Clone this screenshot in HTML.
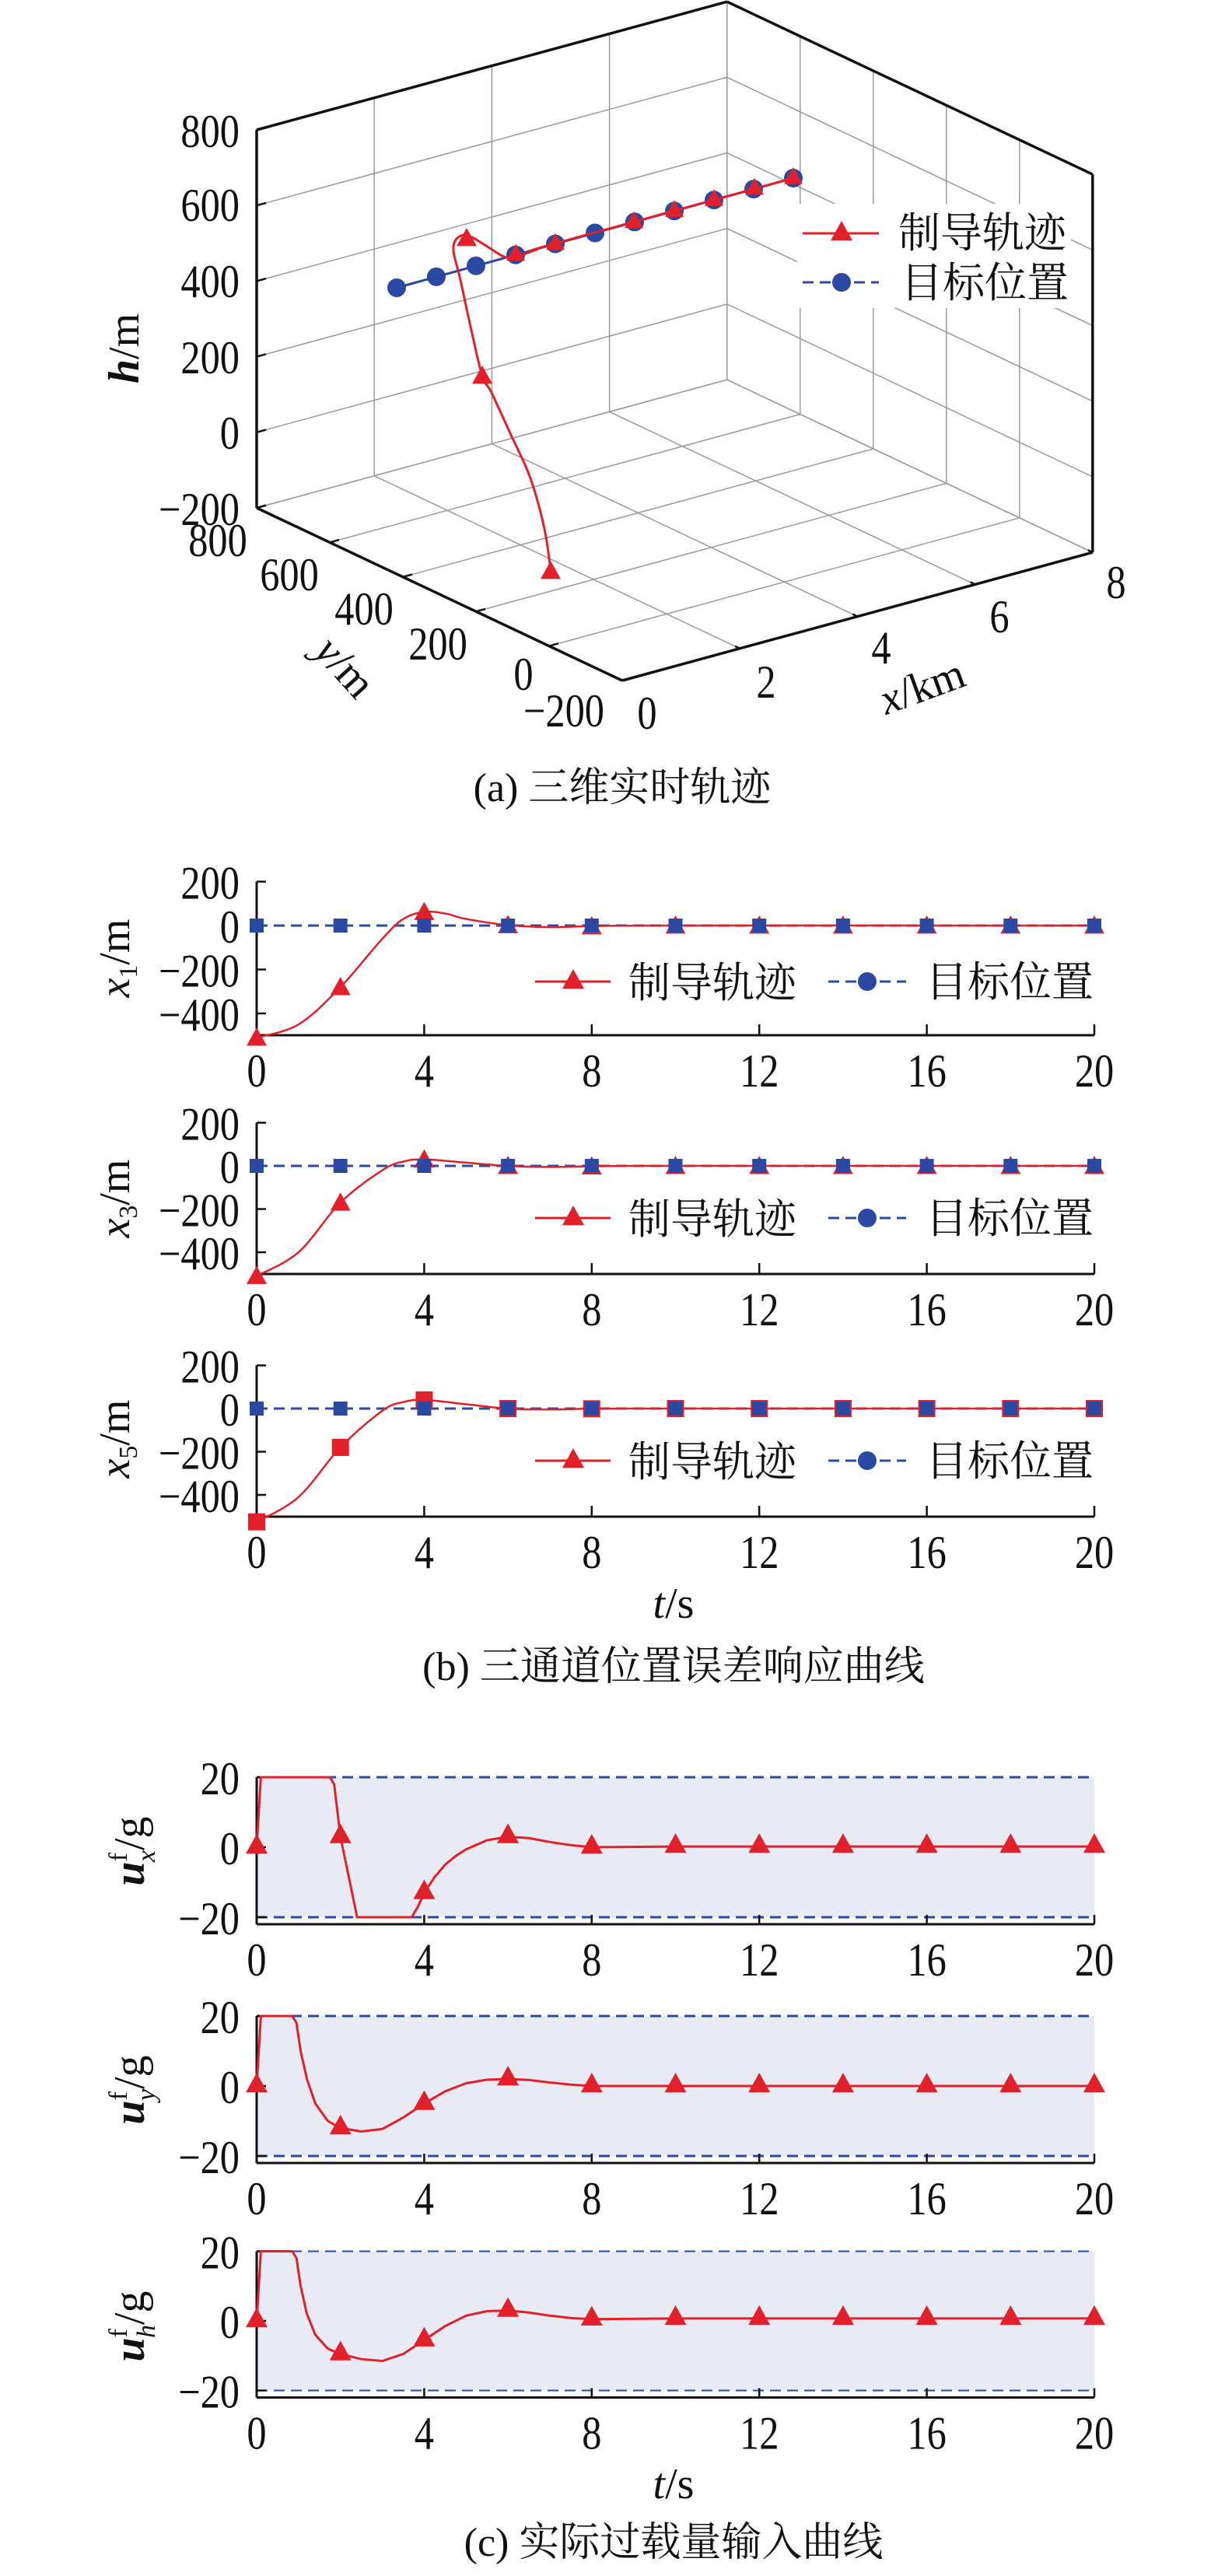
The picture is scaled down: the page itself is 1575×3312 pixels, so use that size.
<!DOCTYPE html>
<html><head><meta charset="utf-8">
<style>
html,body{margin:0;padding:0;background:#fff;}
svg{display:block;}
text{font-family:"Liberation Serif","Noto Serif CJK SC",serif;fill:#111;}
</style></head>
<body>
<svg id="s" width="1575" height="3312" viewBox="0 0 1575 3312" xmlns="http://www.w3.org/2000/svg"></svg>
<script>
const S=document.getElementById('s');
let out='';
const RED='#e3202a',BLUE='#2b49a3';
function line(x1,y1,x2,y2,c,w,d){out+=`<line x1="${x1}" y1="${y1}" x2="${x2}" y2="${y2}" stroke="${c}" stroke-width="${w}" ${d?`stroke-dasharray="${d}"`:''}/>`;}
function txt(x,y,s,size,anchor,extra){out+=`<text x="${x}" y="${y}" font-size="${size}" text-anchor="${anchor||'middle'}" ${extra||''}>${s}</text>`;}
function num(x,y,s,anchor){out+=`<text x="0" y="0" font-size="60" text-anchor="${anchor||'middle'}" transform="translate(${x},${y+2}) scale(0.84,1)">${s}</text>`;}
function tri(x,y,r){r=r||13;out+=`<polygon points="${x},${y-r} ${x-r},${y+r*0.8} ${x+r},${y+r*0.8}" fill="${RED}"/>`;}
function circ(x,y,r){out+=`<circle cx="${x}" cy="${y}" r="${r||12}" fill="${BLUE}"/>`;}
function sq(x,y,c,r){r=r||10;out+=`<rect x="${x-r}" y="${y-r}" width="${2*r}" height="${2*r}" fill="${c}"/>`;}
function poly(pts,c,w,d){out+=`<polyline fill="none" stroke="${c}" stroke-width="${w}" ${d?`stroke-dasharray="${d}"`:''} points="${pts.map(p=>p[0].toFixed(1)+','+p[1].toFixed(1)).join(' ')}"/>`;}
function cr(pts,n){
 let r=[];for(let i=0;i<pts.length-1;i++){const p0=pts[Math.max(0,i-1)],p1=pts[i],p2=pts[i+1],p3=pts[Math.min(pts.length-1,i+2)];
 for(let k=0;k<n;k++){const t=k/n,t2=t*t,t3=t2*t;
 const f=(a,b,c,d)=>0.5*((2*b)+(-a+c)*t+(2*a-5*b+4*c-d)*t2+(-a+3*b-3*c+d)*t3);
 r.push([f(p0[0],p1[0],p2[0],p3[0]),f(p0[1],p1[1],p2[1],p3[1])]);}}
 r.push(pts[pts.length-1]);return r;}
function interp(pts,t){for(let i=0;i<pts.length-1;i++){if(t>=pts[i][0]&&t<=pts[i+1][0]){const a=pts[i],b=pts[i+1];return a[1]+(b[1]-a[1])*(t-a[0])/(b[0]-a[0]);}}return pts[pts.length-1][1];}

// ===== 3D panel =====
function P(x,y,h){return [800+75.6*x-0.47*(y+200),875-20.6*x-0.222*(y+200)-0.486*(h+200)];}
function L3(a,b,c,w){line(a[0].toFixed(1),a[1].toFixed(1),b[0].toFixed(1),b[1].toFixed(1),c,w);}
const G='#9a9a9a';
for(let h=-200;h<=800;h+=200){L3(P(0,800,h),P(8,800,h),G,1.5);L3(P(8,-200,h),P(8,800,h),G,1.5);}
for(let x=0;x<=8;x+=2){L3(P(x,800,-200),P(x,800,800),G,1.5);L3(P(x,-200,-200),P(x,800,-200),G,1.5);}
for(let y=-200;y<=800;y+=200){L3(P(8,y,-200),P(8,y,800),G,1.5);L3(P(0,y,-200),P(8,y,-200),G,1.5);}
const K='#111';
L3(P(0,800,-200),P(0,800,800),K,3.5);L3(P(0,800,800),P(8,800,800),K,3.5);L3(P(8,800,800),P(8,-200,800),K,3.5);
L3(P(8,-200,800),P(8,-200,-200),K,3.5);L3(P(0,800,-200),P(0,-200,-200),K,3.5);L3(P(0,-200,-200),P(8,-200,-200),K,3.5);
for(let h=-200;h<=800;h+=200){const a=P(0,800,h);line(a[0],a[1].toFixed(1),a[0]+12,(a[1]-3.3).toFixed(1),K,2.5);}
for(let x=2;x<=8;x+=2){const a=P(x,-200,-200);line(a[0].toFixed(1),a[1].toFixed(1),(a[0]-6).toFixed(1),(a[1]-3).toFixed(1),K,2.5);}
for(let y=0;y<=800;y+=200){const a=P(0,y,-200);line(a[0].toFixed(1),a[1].toFixed(1),(a[0]+12).toFixed(1),(a[1]-3.3).toFixed(1),K,2.5);}
[[800,167],[600,262],[400,360],[200,458],[0,555],[-200,653]].forEach(v=>num(308,v[1]+20,v[0]<0?'−200':v[0],'end'));
txt(0,0,'<tspan font-weight="bold" font-style="italic">h</tspan>/m',56,'middle','transform="translate(178,448) rotate(-90)"');
[[800,280,693],[600,372,737],[400,468,781],[200,563,826],[0,673,865],['−200',725,912]].forEach(v=>num(v[1],v[2]+20,v[0]));
[[0,832,915],[2,985,875],[4,1133,831],[6,1285,791],[8,1435,747]].forEach(v=>num(v[1],v[2]+20,v[0]));
txt(0,0,'<tspan font-style="italic">y</tspan>/m',56,'middle','transform="translate(430,870) rotate(48)"');
txt(0,0,'<tspan font-style="italic">x</tspan>/km',56,'middle','transform="translate(1192,900) rotate(-20)"');
out+=`<rect x="1025" y="262" width="352" height="134" fill="#fff"/>`;
poly([[510,370],[1020,229]],BLUE,3);
for(let i=0;i<11;i++){const x=510+51*i;circ(x,370-(x-510)*0.2765,12);}
poly(cr([[708,734],[700,680],[682,615],[655,555],[632,505],[620,483],[605,420],[592,360],[583,322],[588,306],[602,303],[625,316],[648,330],[663,330],[690,321],[714,313],[1020,229]],8),RED,3);
tri(708,734);tri(620,483);tri(600,306);
[663,714,815,867,918,970,1020].forEach(x=>tri(x,370-(x-510)*0.2765-2,12));
line(1032,300,1130,300,RED,3);tri(1082,298,14);txt(1155,318,'制导轨迹',54,'start');
line(1032,363,1130,363,BLUE,3,'14 8');circ(1082,363,12);txt(1158,382,'目标位置',54,'start');
txt(800,1030,'(a) 三维实时轨迹',52);

// ===== b panels =====
const X=t=>330+t*53.85;
function bpanel(y0,sc,data,lab,sub,redsq){
 const Y=v=>y0-v*sc;
 const axb=y0+(sc===0.2825?141:139);
 line(330,Y(200),330,axb,K,3);line(330,axb,1407,axb,K,3);
 [200,0,-200,-400].forEach(v=>{line(330,Y(v),342,Y(v),K,2.5);num(308,Y(v)+20,v<0?'−'+(-v):v,'end');});
 for(let t=0;t<=20;t+=4){line(X(t),axb,X(t),axb-14,K,2.5);num(X(t),axb+64,t);}
 line(330,Y(0),1407,Y(0),BLUE,3,'14 8');
 const pts=cr(data.map(p=>[X(p[0]),Y(p[1])]),10);poly(pts,RED,2.5);
 for(let t=0;t<=20;t+=2){const v=interp(data,t);if(redsq)sq(X(t),Y(v),RED,11);else tri(X(t),Y(v),13);}
 for(let t=0;t<=20;t+=2)sq(X(t),Y(0),BLUE,9);
 const ly=Y(0)+ (sc===0.2825?72:67);
 line(688,ly,785,ly,RED,3);tri(737,ly-2,14);txt(808,ly+20,'制导轨迹',54,'start');
 line(1065,ly,1165,ly,BLUE,3,'14 8');circ(1115,ly,12);txt(1190,ly+19,'目标位置',54,'start');
 txt(0,0,`<tspan font-style="italic">x</tspan><tspan font-size="34" dy="10">${sub}</tspan><tspan dy="-10">/m</tspan>`,56,'middle',`transform="translate(166,${lab}) rotate(-90)"`);
}
bpanel(1190,0.2825,[[0,-510],[1,-450],[2,-280],[3,-60],[3.5,30],[4,62],[4.5,55],[5,30],[6,2],[7,-7],[8,-3],[10,0],[20,0]],1232,1,false);
bpanel(1499,0.2775,[[0,-510],[1,-400],[2,-170],[3,-20],[3.5,20],[4,30],[5,15],[6,0],[7,-5],[8,-2],[10,0],[20,0]],1541,3,false);
bpanel(1811,0.2775,[[0,-525],[1,-410],[2,-180],[3,-10],[3.5,30],[4,40],[5,20],[6,0],[7,-4],[8,-1],[10,0],[20,0]],1850,5,true);
txt(866,2080,'<tspan font-style="italic">t</tspan>/s',56);
txt(866,2160,'(b) 三通道位置误差响应曲线',52);

// ===== c panels =====
function cpanel(y0,sc,data,lab,sub,dw){
 const Y=v=>y0-v*sc, axb=Y(-20)+9;
 out+=`<rect x="330" y="${Y(20)}" width="1077" height="${Y(-20)-Y(20)}" fill="#e8eaf4"/>`;
 line(330,Y(20),1407,Y(20),BLUE,dw,'14 8');line(330,Y(-20),1407,Y(-20),BLUE,dw,'14 8');
 line(330,Y(20),330,axb,K,3);line(330,axb,1407,axb,K,3);
 [20,0,-20].forEach(v=>{line(330,Y(v),342,Y(v),K,2.5);num(308,Y(v)+20,v<0?'−20':v,'end');});
 for(let t=0;t<=20;t+=4){line(X(t),axb,X(t),axb-12,K,2.5);num(X(t),axb+64,t);}
 poly(data.map(p=>[X(p[0]),Y(p[1])]),RED,3);
 for(let t=0;t<=20;t+=2){tri(X(t),Y(interp(data,t))-3,14);}
 txt(0,0,`<tspan font-weight="bold" font-style="italic">u</tspan><tspan font-size="34" dy="-22">f</tspan><tspan font-size="34" font-style="italic" dy="36" dx="-12">${sub}</tspan><tspan dy="-14">/g</tspan>`,56,'middle',`transform="translate(185,${lab}) rotate(-90)"`);
}
cpanel(2375,4.5,[[0,0],[0.1,20],[1.75,20],[1.85,18],[2,3],[2.4,-20],[3.7,-20],[3.85,-17],[4,-13],[4.25,-8.5],[4.5,-5],[4.75,-2.5],[5,-0.6],[5.5,2],[6,3],[6.5,2.6],[7,1.5],[7.5,0.6],[8,0],[10,0.2],[20,0.2]],2380,'x',3);
cpanel(2682,4.5,[[0,0],[0.1,20],[0.85,20],[0.95,18],[1.05,10],[1.2,2],[1.4,-5],[1.7,-10],[2,-12],[2.5,-13],[3,-12.3],[3.5,-9],[4,-5],[4.5,-1.5],[5,0.8],[5.5,1.8],[6,2],[6.5,1.7],[7,1],[7.5,0.4],[8,0],[10,0],[20,0]],2687,'y',3);
cpanel(2984,4.475,[[0,0],[0.1,20],[0.85,20],[0.95,18],[1.05,10],[1.2,2],[1.4,-4],[1.7,-8],[2,-9.5],[2.5,-11],[3,-11.5],[3.5,-9.5],[4,-5.5],[4.5,-1.5],[5,1.5],[5.5,2.8],[6,3],[6.5,2.4],[7,1.5],[7.5,0.8],[8,0.5],[10,0.7],[20,0.7]],2991,'h',2);
txt(866,3212,'<tspan font-style="italic">t</tspan>/s',56);
txt(866,3286,'(c) 实际过载量输入曲线',52);
S.innerHTML=out;
</script>
</body></html>
